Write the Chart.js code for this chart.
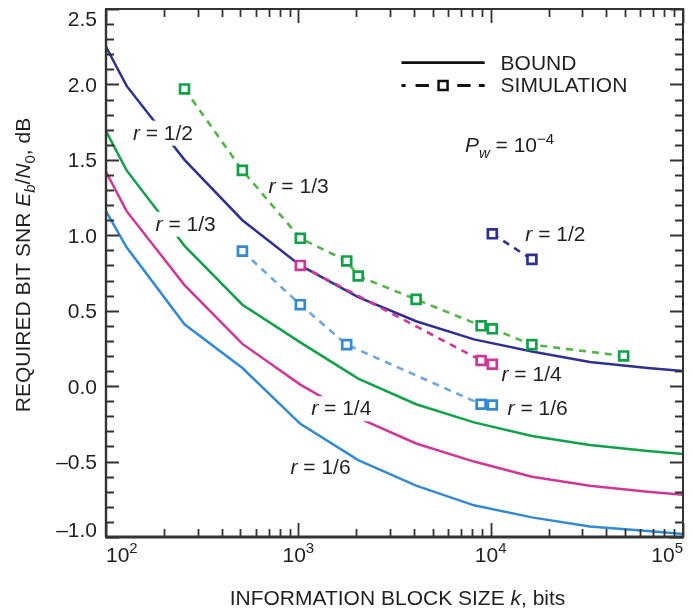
<!DOCTYPE html>
<html><head><meta charset="utf-8">
<script src="https://cdn.jsdelivr.net/npm/chart.js@4/dist/chart.umd.min.js"></script>
<style>html,body{margin:0;padding:0;background:#fff;}</style>
</head><body>
<canvas id="c" width="692" height="613"></canvas>
<script>
// ---- data ----
const boundK   = [100, 128, 256, 512, 1024, 2048, 4096, 8192, 16384, 32768, 65536, 100000];
const boundR12 = [2.25, 1.99, 1.50, 1.10, 0.80, 0.59, 0.43, 0.31, 0.23, 0.16, 0.12, 0.10];
const boundR13 = [1.69, 1.43, 0.93, 0.54, 0.29, 0.05, -0.12, -0.24, -0.33, -0.39, -0.43, -0.45];
const boundR14 = [1.42, 1.16, 0.67, 0.28, 0.01, -0.21, -0.38, -0.50, -0.60, -0.66, -0.70, -0.72];
const boundR16 = [1.16, 0.92, 0.41, 0.12, -0.25, -0.49, -0.66, -0.79, -0.87, -0.93, -0.96, -0.98];

const simK12 = [10200, 16384];
const simR12 = [1.01, 0.84];
const simK13 = [256, 512, 1024, 1784, 2048, 4096, 8920, 10200, 16384, 49152];
const simR13 = [1.97, 1.43, 0.98, 0.83, 0.73, 0.575, 0.40, 0.38, 0.275, 0.20];
const simK14 = [1024, 8920, 10200];
const simR14 = [0.80, 0.17, 0.145];
const simK16 = [512, 1024, 1784, 8920, 10200];
const simR16 = [0.895, 0.54, 0.275, -0.12, -0.125];

const xMajor = [100, 1000, 10000, 100000];
const xMajorExp = ['2', '3', '4', '5'];
const yMajor = [-1.0, -0.5, 0.0, 0.5, 1.0, 1.5, 2.0, 2.5];
const yMajorLabels = ['\u20131.0', '\u20130.5', '0.0', '0.5', '1.0', '1.5', '2.0', '2.5'];

// curve labels (anchored in data coordinates: left edge, baseline)
const curveLabels = [
  {frac: '1/2', k: 138,   v: 1.634, knock: true},
  {frac: '1/3', k: 700,   v: 1.278, knock: false},
  {frac: '1/3', k: 181,   v: 1.03,  knock: true},
  {frac: '1/2', k: 15140, v: 0.964, knock: false},
  {frac: '1/4', k: 11390, v: 0.036, knock: false},
  {frac: '1/6', k: 12240, v: -0.193, knock: false},
  {frac: '1/4', k: 1167,  v: -0.193, knock: true},
  {frac: '1/6', k: 910,   v: -0.585, knock: false}
];

const NAVY = '#2e3192', GREEN = '#12a04a', MAG = '#cf3797', BLUE = '#3489d3';
const GREEN_D = '#55b447', BLUE_D = '#6ea8dc';

const pts = (K, V) => K.map((k, i) => ({x: k, y: V[i]}));
const bound = (K, V, c) => ({data: pts(K, V), showLine: true, borderColor: c, borderWidth: 2.5,
  pointRadius: 0, fill: false, tension: 0, order: 2});
const sim = (K, V, c, lc) => ({data: pts(K, V), showLine: true, borderColor: lc, borderWidth: 2.6,
  borderDash: [7, 6], pointStyle: 'rect', pointRadius: 6.3, pointBorderColor: c,
  pointBackgroundColor: '#fff', pointBorderWidth: 2.7, fill: false, tension: 0, order: 1});

const FONT = '"Liberation Sans", Arial, Helvetica, sans-serif';
function rich(ctx, x, y, segs, measureOnly, base) {
  base = base || 21;
  let cx = x;
  for (const s of segs) {
    const size = (s.sub || s.sup) ? Math.round(base * 0.72) : base;
    ctx.font = (s.it ? 'italic ' : '') + size + 'px ' + FONT;
    const dy = s.sub ? base * 0.26 : (s.sup ? -base * 0.42 : 0);
    if (!measureOnly) ctx.fillText(s.t, cx, y + dy);
    cx += ctx.measureText(s.t).width;
  }
  return cx - x;
}

const decor = {
  id: 'decor',
  afterDatasetsDraw(chart) {
    const {ctx, scales: {x, y}} = chart;
    ctx.save();
    ctx.textBaseline = 'alphabetic';
    ctx.textAlign = 'left';
    for (const L of curveLabels) {
      const px = x.getPixelForValue(L.k), py = y.getPixelForValue(L.v);
      const segs = [{t: 'r', it: 1}, {t: ' = ' + L.frac}];
      const w = rich(ctx, px, py, segs, true);
      if (L.knock) { ctx.fillStyle = '#fff'; ctx.fillRect(px - 4, py - 19, w + 8, 25); }
      ctx.fillStyle = '#231f20';
      rich(ctx, px, py, segs);
    }
    // P_w label
    const pwx = x.getPixelForValue(7345), pwy = y.getPixelForValue(1.549);
    rich(ctx, pwx, pwy, [{t: 'P', it: 1}, {t: 'w', it: 1, sub: 1}, {t: ' = 10'}, {t: '\u22124', sup: 1}]);

    // legend
    const lx0 = x.getPixelForValue(3436), lx1 = x.getPixelForValue(9310);
    const ly0 = y.getPixelForValue(2.144), ly1 = y.getPixelForValue(1.993);
    ctx.strokeStyle = '#111'; ctx.lineWidth = 2.8;
    ctx.beginPath(); ctx.moveTo(lx0, ly0); ctx.lineTo(lx1, ly0); ctx.stroke();
    const W = lx1 - lx0;
    const segsL = [[0, 0.05], [0.17, 0.33], [0.67, 0.83], [0.93, 1.0]];
    ctx.beginPath();
    for (const [a, b] of segsL) { ctx.moveTo(lx0 + a * W, ly1); ctx.lineTo(lx0 + b * W, ly1); }
    ctx.stroke();
    const cxq = lx0 + 0.5 * W;
    ctx.fillStyle = '#fff'; ctx.fillRect(cxq - 4.5, ly1 - 4.5, 9, 9);
    ctx.lineWidth = 2.5; ctx.strokeRect(cxq - 4.5, ly1 - 4.5, 9, 9);
    ctx.fillStyle = '#231f20';
    const tx = x.getPixelForValue(11260);
    rich(ctx, tx, y.getPixelForValue(2.098), [{t: 'BOUND'}]);
    rich(ctx, tx, y.getPixelForValue(1.948), [{t: 'SIMULATION'}]);
    ctx.restore();
  },
  afterDraw(chart) {
    const {ctx, chartArea: a, scales: {x, y}} = chart;
    ctx.save();
    const axisC = '#333333';
    ctx.strokeStyle = axisC; ctx.lineCap = 'butt';
    ctx.lineWidth = 1.8;
    ctx.beginPath();
    for (let i = Math.round(y.min * 10); i <= Math.round(y.max * 10); i++) {
      const v = i / 10; const py = Math.round(y.getPixelForValue(v)) + 0.5;
      const len = (i % 5 === 0) ? 13 : 8;
      ctx.moveTo(a.left, py); ctx.lineTo(a.left + len, py);
      ctx.moveTo(a.right, py); ctx.lineTo(a.right - len, py);
    }
    for (let d = 100; d < 100000; d *= 10) {
      for (let m = 1; m <= 10; m++) {
        const v = d * m; const px = Math.round(x.getPixelForValue(v)) + 0.5;
        const len = (m === 1 || m === 10) ? 14 : 8;
        ctx.moveTo(px, a.bottom); ctx.lineTo(px, a.bottom - len);
        ctx.moveTo(px, a.top); ctx.lineTo(px, a.top + len);
      }
    }
    ctx.stroke();
    ctx.lineWidth = 2;
    ctx.strokeRect(a.left, a.top, a.right - a.left, a.bottom - a.top);
    ctx.lineWidth = 3;
    ctx.beginPath(); ctx.moveTo(a.left - 1, a.bottom); ctx.lineTo(a.right + 1, a.bottom); ctx.stroke();
    ctx.lineWidth = 2.4;
    ctx.beginPath(); ctx.moveTo(a.left, a.top); ctx.lineTo(a.left, a.bottom); ctx.stroke();

    ctx.fillStyle = '#231f20';
    ctx.textBaseline = 'alphabetic'; ctx.textAlign = 'left';
    yMajor.forEach((v, i) => {
      let cy = y.getPixelForValue(v);
      cy = Math.min(Math.max(cy, a.top + 9), a.bottom - 8);
      const segs = [{t: yMajorLabels[i]}];
      const w = rich(ctx, 0, 0, segs, true);
      rich(ctx, a.left - 9 - w, cy + 7.5, segs);
    });
    xMajor.forEach((v, i) => {
      const px = x.getPixelForValue(v);
      const segs = [{t: '10'}, {t: xMajorExp[i], sup: 1}];
      const w = rich(ctx, 0, 0, segs, true);
      let lx = px - w / 2;
      lx = Math.min(Math.max(lx, a.left), a.right - w);
      rich(ctx, lx, a.bottom + 25, segs);
    });
    const xt = [{t: 'INFORMATION BLOCK SIZE '}, {t: 'k', it: 1}, {t: ', bits'}];
    const wx = rich(ctx, 0, 0, xt, true);
    rich(ctx, (a.left + a.right) / 2 + 3 - wx / 2, a.bottom + 68, xt);
    const yt = [{t: 'REQUIRED BIT SNR '}, {t: 'E', it: 1}, {t: 'b', it: 1, sub: 1}, {t: '/'},
                {t: 'N', it: 1}, {t: '0', sub: 1}, {t: ', dB'}];
    const wy = rich(ctx, 0, 0, yt, true);
    ctx.translate(30, 265);
    ctx.rotate(-Math.PI / 2);
    rich(ctx, -wy / 2, 0, yt);
    ctx.restore();
  }
};

new Chart(document.getElementById('c'), {
  type: 'scatter',
  data: {
    datasets: [
      bound(boundK, boundR12, NAVY),
      bound(boundK, boundR13, GREEN),
      bound(boundK, boundR14, MAG),
      bound(boundK, boundR16, BLUE),
      sim(simK16, simR16, BLUE, BLUE_D),
      sim(simK14, simR14, MAG, MAG),
      sim(simK13, simR13, GREEN, GREEN_D),
      sim(simK12, simR12, NAVY, NAVY)
    ]
  },
  options: {
    responsive: false,
    animation: false,
    devicePixelRatio: 1,
    layout: {padding: {left: 106, right: 4, top: 3, bottom: 76}},
    plugins: {legend: {display: false}, tooltip: {enabled: false}},
    scales: {
      x: {type: 'logarithmic', min: 100, max: 100000, display: false},
      y: {type: 'linear', min: -1.0, max: 2.5, display: false}
    }
  },
  plugins: [decor]
});
</script>
</body></html>
